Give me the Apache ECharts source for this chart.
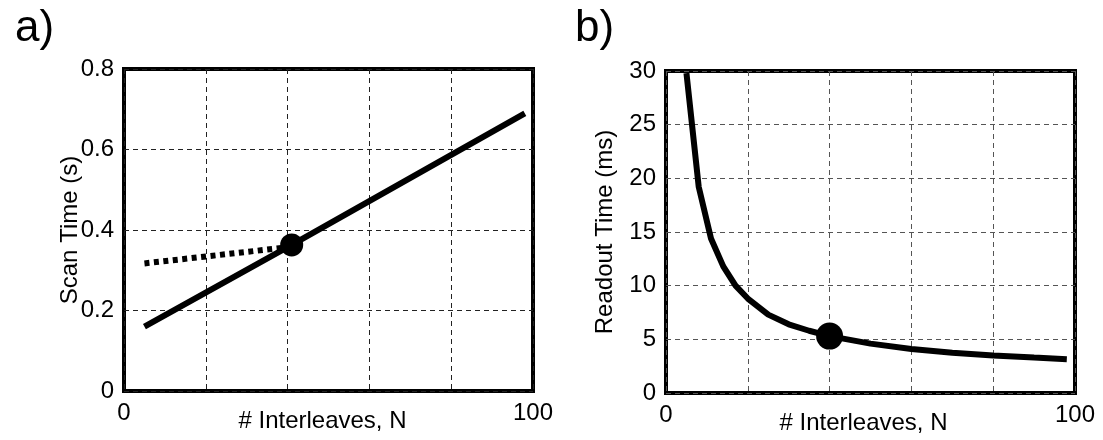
<!DOCTYPE html>
<html>
<head>
<meta charset="utf-8">
<script src="https://cdn.jsdelivr.net/npm/echarts@6/dist/echarts.min.js"></script>
<style>
  html, body { margin: 0; padding: 0; background: #fff; }
  #chart { width: 1103px; height: 440px; }
</style>
</head>
<body>
<div id="chart"></div>
<script>
  // panel a) scan time vs interleaves
  var scanN = [5, 41, 98]
  var scanTime = [0.16, 0.363, 0.69]
  var scanDotN = [5, 39]
  var scanDotTime = [0.317, 0.356]
  var scanMark = [41, 0.363]

  // panel b) readout time vs interleaves
  var readN = [5, 8, 11, 14, 17, 20, 25, 30, 35, 40, 50, 60, 70, 80, 90, 98]
  var readTime = [29.8, 19.2, 14.4, 11.8, 10.0, 8.8, 7.3, 6.4, 5.8, 5.3, 4.6, 4.1, 3.75, 3.5, 3.3, 3.15]
  var readMark = [40, 5.3]

  var xTicks = [0, 100]   // only these get labels
  var panelTitles = ['a)', 'b)']
  var xName = '# Interleaves, N'
  var yNames = ['Scan Time (s)', 'Readout Time (ms)']

  function zip(xs, ys) {
    return xs.map(function (x, i) { return [x, ys[i]] })
  }

  var chart = echarts.init(document.getElementById('chart'))
  var font = 'Liberation Sans, Arial, sans-serif'

  var xAxisBase = function (idx, padRight) {
    return {
      type: 'value',
      gridIndex: idx,
      min: 0, max: 100, interval: 20,
      name: xName,
      nameLocation: 'middle',
      nameGap: 18,
      nameMoveOverlap: false,
      nameTextStyle: { fontFamily: font, fontSize: 24, color: '#000', verticalAlign: 'top', padding: [0, padRight, 0, 0] },
      axisLine: { show: false },
      axisTick: { show: false },
      axisLabel: {
        margin: 10, fontFamily: font, fontSize: 24, color: '#000', verticalAlign: 'top',
        formatter: function (v) { return xTicks.indexOf(v) >= 0 ? String(v) : '' }
      },
      splitLine: { show: true, lineStyle: { color: idx === 0 ? '#222' : '#555', width: 1, type: [5, 4] } }
    }
  }

  var yAxisBase = function (idx, max, interval, gap, fmt) {
    return {
      type: 'value',
      gridIndex: idx,
      min: 0, max: max, interval: interval,
      name: yNames[idx],
      nameLocation: 'middle',
      nameGap: gap,
      nameMoveOverlap: false,
      nameTextStyle: { fontFamily: font, fontSize: 24, color: '#000' },
      axisLine: { show: false },
      axisTick: { show: false },
      axisLabel: { margin: 10, fontFamily: font, fontSize: 24, color: '#000', formatter: fmt },
      splitLine: { show: true, lineStyle: { color: idx === 0 ? '#222' : '#555', width: 1, type: [5, 4] } }
    }
  }

  var option = {
    backgroundColor: '#fff',
    animation: false,
    title: [
      { text: panelTitles[0], left: 10, top: 2, textStyle: { fontFamily: font, fontSize: 44, fontWeight: 'normal', color: '#000' } },
      { text: panelTitles[1], left: 570, top: 2, textStyle: { fontFamily: font, fontSize: 44, fontWeight: 'normal', color: '#000' } }
    ],
    grid: [
      { left: 124, top: 69, width: 409, height: 322, outerBoundsMode: 'none', show: true, borderColor: '#000', borderWidth: 4, backgroundColor: 'transparent' },
      { left: 666, top: 71, width: 409, height: 322, outerBoundsMode: 'none', show: true, borderColor: '#000', borderWidth: 4, backgroundColor: 'transparent' }
    ],
    xAxis: [xAxisBase(0, 12), xAxisBase(1, 14)],
    yAxis: [
      yAxisBase(0, 0.8, 0.2, 42, function (v) { return v === 0 ? '0' : v.toFixed(1) }),
      yAxisBase(1, 30, 5, 49, function (v) { return String(v) })
    ],
    series: [
      {
        type: 'line', xAxisIndex: 0, yAxisIndex: 0,
        data: zip(scanN, scanTime),
        showSymbol: false, lineStyle: { color: '#000', width: 6 }
      },
      {
        type: 'line', xAxisIndex: 0, yAxisIndex: 0,
        data: zip(scanDotN, scanDotTime),
        showSymbol: false, lineStyle: { color: '#000', width: 6, type: [5, 4.5], cap: 'butt' }
      },
      {
        type: 'scatter', xAxisIndex: 0, yAxisIndex: 0,
        data: [scanMark], symbolSize: 23, itemStyle: { color: '#000', opacity: 1 }
      },
      {
        type: 'line', xAxisIndex: 1, yAxisIndex: 1,
        data: zip(readN, readTime),
        showSymbol: false, lineStyle: { color: '#000', width: 6 }
      },
      {
        type: 'scatter', xAxisIndex: 1, yAxisIndex: 1,
        data: [readMark], symbolSize: 27, itemStyle: { color: '#000', opacity: 1 }
      }
    ]
  }

  chart.setOption(option)
</script>
</body>
</html>
